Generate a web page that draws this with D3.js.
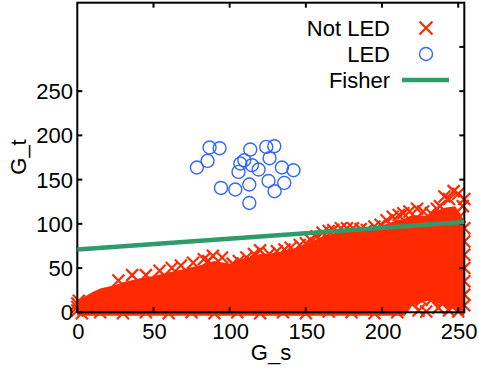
<!DOCTYPE html>
<html><head><meta charset="utf-8">
<script src="https://cdn.jsdelivr.net/npm/d3@7"></script>
<style>body{margin:0;background:#fff}svg{display:block}text{font-family:"Liberation Sans",Arial,sans-serif;font-size:22px;fill:#000}</style>
</head><body><svg id="c" width="479" height="368"></svg>
<script>
// ---- data ----
const xTicks = [0, 50, 100, 150, 200, 250];
const yTicks = [0, 50, 100, 150, 200, 250];
const yTicksRight = [50, 100, 150, 200, 250, 300];
const legendLabels = ["Not LED", "LED", "Fisher"];

// dense "Not LED" band (envelope of the solid mass)
const coreX  = [0, 5, 10, 15, 20, 25, 30, 40, 50, 60, 70, 80, 90, 100, 110, 120, 130, 140, 150, 160, 170, 180, 190, 200, 210, 215, 220, 230, 240, 248, 252, 254];
const coreHi = [12, 18, 23, 27, 29, 31, 34, 38, 41, 45, 49, 53, 58, 55, 61, 66, 67, 71, 77, 85, 90, 93, 94, 98, 104, 106, 110, 109, 118, 120, 110, 100];
const coreLo = [-4, -4, -4, -4, -4, -4, -4, -4, -4, -4, -4, -4, -4, -4, -4, -4, -4, -4, -4, -4, -4, -4, -4, -4, -4, -4, 8, 13, 9, 3, -4, -4];

// individual "Not LED" markers along the edges of the band
const notLedX = [0, 0, 0, 1, 27, 36, 45, 54, 62, 68, 76, 83, 86, 89, 95, 102, 106, 111, 116, 120, 126, 131, 136, 140, 146, 150, 153, 157, 161, 165, 168, 173, 177, 181, 186, 190, 195, 199, 203, 207, 211, 214, 218, 223, 227, 232, 236, 238, 241, 244, 247, 250, 251, 253, 254,
  3, 15, 30, 45, 60, 75, 90, 105, 120, 135, 150, 165, 180, 195, 210, 220, 226, 233, 240, 246, 229, 244, 250, 224, 237,
  254, 254, 254, 254, 254, 254, 254];
const notLedY = [2, 6, 10, 13, 36, 42, 42, 47, 50, 53, 56, 60, 58, 64, 62, 55, 58, 62, 66, 70, 66, 69, 71, 73, 76, 78, 82, 86, 90, 92, 93, 95, 95, 95, 94, 93, 97, 99, 104, 108, 110, 112, 114, 117, 114, 112, 117, 120, 131, 128, 137, 134, 108, 120, 128,
  -1, 0, -1, 0, -1, 0, -1, 0, -1, 0, -1, 1, 0, -1, 0, 10, 14, 15, 12, 7, 1, 2, 1, 2, 5,
  95, 80, 65, 50, 35, 20, 8];

// "LED" samples
const ledX = [86.8, 93.4, 85.5, 78.5, 113.5, 124.0, 129.3, 126.2, 109.6, 107.0, 105.8, 114.6, 119.0, 134.3, 141.9, 125.5, 135.8, 129.5, 94.3, 103.7, 112.9, 112.9];
const ledY = [186.3, 185.5, 171.2, 163.7, 184.0, 187.0, 187.8, 174.2, 171.9, 168.2, 158.7, 166.3, 161.4, 163.7, 160.6, 148.5, 146.3, 136.9, 140.6, 138.8, 144.5, 123.6];

// Fisher discriminant line
const fisherX = [0, 254];
const fisherY = [71, 102];

// ---- layout ----
const svg = d3.select("#c");
const L = 77.3, R = 464.3, T = 2.7, B = 312.3;
const x = d3.scaleLinear().domain([0, 254]).range([L, R]);
const y = d3.scaleLinear().domain([0, 350]).range([B, T]);
const RED = "#ff2a00", BLUE = "#3366ff", GREEN = "#2e9b69";

// band
const core = coreX.map((v, i) => ({x: v, lo: coreLo[i], hi: coreHi[i]}));
svg.append("path").datum(core)
  .attr("d", d3.area().x(d => x(d.x)).y0(d => y(d.lo)).y1(d => y(d.hi)))
  .attr("fill", RED);

const xPath = (cx, cy, s) => `M${cx - s},${cy - s}L${cx + s},${cy + s}M${cx - s},${cy + s}L${cx + s},${cy - s}`;
svg.append("g").selectAll("path").data(notLedX.map((v, i) => [v, notLedY[i]])).join("path")
  .attr("d", d => xPath(x(d[0]), y(d[1]), 6))
  .attr("stroke", RED).attr("stroke-width", 2.2).attr("fill", "none");

// frame
const g = svg.append("g");
g.append("rect").attr("x", L).attr("y", T).attr("width", R - L).attr("height", B - T)
  .attr("fill", "none").attr("stroke", "#000").attr("stroke-width", 2);
const tl = 5;
g.selectAll(".lt").data(yTicks).join("line").attr("x1", L).attr("x2", L + tl)
  .attr("y1", d => y(d)).attr("y2", d => y(d)).attr("stroke", "#000").attr("stroke-width", 2);
g.selectAll(".rt").data(yTicksRight).join("line").attr("x1", R - tl).attr("x2", R)
  .attr("y1", d => y(d)).attr("y2", d => y(d)).attr("stroke", "#000").attr("stroke-width", 2);
g.selectAll(".bt").data(xTicks).join("line").attr("x1", d => x(d)).attr("x2", d => x(d))
  .attr("y1", B).attr("y2", B - tl).attr("stroke", "#000").attr("stroke-width", 2);
g.selectAll(".tt").data(xTicks.filter(d => d > 0)).join("line").attr("x1", d => x(d)).attr("x2", d => x(d))
  .attr("y1", T).attr("y2", T + tl).attr("stroke", "#000").attr("stroke-width", 2);

// fisher line
svg.append("path").datum(fisherX.map((v, i) => [v, fisherY[i]]))
  .attr("d", d3.line().x(d => x(d[0])).y(d => y(d[1])))
  .attr("stroke", GREEN).attr("stroke-width", 4.5).attr("fill", "none");

// LED circles
svg.append("g").selectAll("circle").data(ledX.map((v, i) => [v, ledY[i]])).join("circle")
  .attr("cx", d => x(d[0])).attr("cy", d => y(d[1])).attr("r", 6.5)
  .attr("fill", "none").attr("stroke", BLUE).attr("stroke-width", 1.4);

// tick labels
svg.append("g").selectAll("text").data(xTicks).join("text")
  .attr("x", d => x(d) + 1).attr("y", 339).attr("text-anchor", "middle").text(d => d);
svg.append("g").selectAll("text").data(yTicks).join("text")
  .attr("x", 73).attr("y", d => y(d)).attr("dy", "0.36em").attr("text-anchor", "end").text(d => d);

// axis titles
svg.append("text").attr("x", 271).attr("y", 360).attr("text-anchor", "middle").text("G_s");
svg.append("text").attr("transform", "translate(26,157) rotate(-90)").attr("text-anchor", "middle").text("G_t");

// legend
const leg = svg.append("g");
const rows = [28, 54, 80];
leg.selectAll("text").data(legendLabels).join("text")
  .attr("x", 390).attr("y", (d, i) => rows[i]).attr("dy", "0.36em").attr("text-anchor", "end").text(d => d);
leg.append("path").attr("d", xPath(426, rows[0], 6.5)).attr("stroke", RED).attr("stroke-width", 2.2).attr("fill", "none");
leg.append("circle").attr("cx", 426).attr("cy", rows[1]).attr("r", 6.5).attr("fill", "none").attr("stroke", BLUE).attr("stroke-width", 1.4);
leg.append("line").attr("x1", 402).attr("x2", 449).attr("y1", rows[2]).attr("y2", rows[2]).attr("stroke", GREEN).attr("stroke-width", 4.5);
</script></body></html>
